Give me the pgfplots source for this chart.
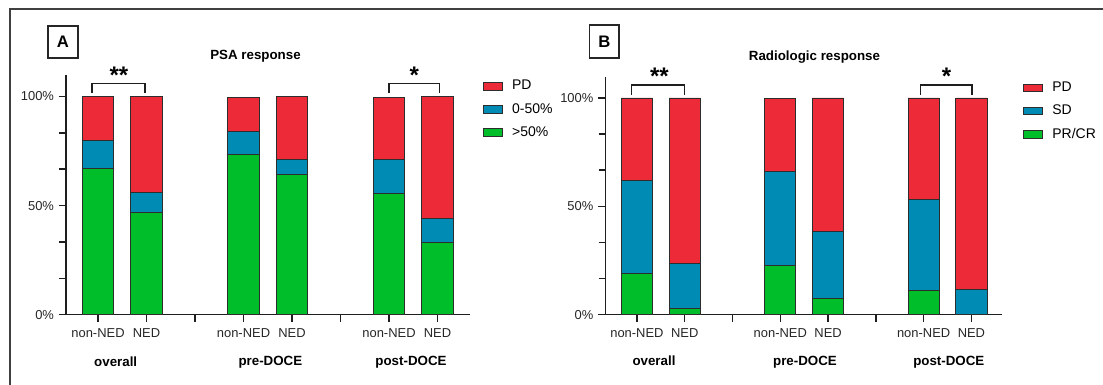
\documentclass[border=0pt]{standalone}
\usepackage{fontspec}
\setmainfont{Liberation Sans}
\usepackage{pgfplots}
\pgfplotsset{compat=1.18}
\definecolor{cPD}{RGB}{237,42,56}
\definecolor{cSD}{RGB}{0,139,180}
\definecolor{cPR}{RGB}{0,190,41}
\definecolor{edge}{RGB}{45,45,45}
\definecolor{axc}{RGB}{30,30,30}
\pgfplotsset{
  myaxis/.style={
    scale only axis,
    anchor=south west,
    ybar stacked,
    bar width=23.4pt,
    ymin=0, ymax=109.8,
    xmin=-0.66,
    axis lines=left,
    axis line style={-, line width=1.1pt, draw=axc},
    xtick={0,...,7},
    xticklabels={non-NED,NED,,non-NED,NED,,non-NED,NED},
    ytick={0,50,100},
    yticklabels={0\%,50\%,100\%},
    minor ytick={16.667,33.333,66.667,83.333},
    tick align=outside,
    major tick length=5.5pt, minor tick length=5pt,
    every tick/.style={line width=1.1pt, axc},
    every minor tick/.style={line width=1.1pt, axc},
    tick label style={font=\fontsize{9.7}{11}\selectfont, text=black!85},
    xticklabel style={yshift=-1pt},
    yticklabel style={xshift=0pt},
    /pgf/number format/assume math mode=true,
    clip=false,
    reverse legend,
    legend cell align=left,
    legend style={draw=none, fill=none, inner sep=0pt, font=\fontsize{10.5}{12}\selectfont,
      row sep=4.6pt, /tikz/every odd column/.append style={column sep=5pt}},
  },
  mybar/.style={draw=edge, line width=0.7pt,
    legend image code/.code={\draw[##1, line width=0.7pt] (0pt,-2.9pt) rectangle (14pt,2.9pt);}},
}
\begin{document}
\begin{tikzpicture}
\path[use as bounding box] (0,0) rectangle (827.25pt,288.75pt);
\begin{scope}
\clip (0,0) rectangle (827.25pt,288.75pt);
\draw[line width=1.4pt, draw=black!75] (7.5pt,-20pt) -- (7.5pt,282pt) -- (840pt,282pt);
\end{scope}

% ---------------- Panel A ----------------
\begin{axis}[myaxis, at={(49.5pt,52.7pt)}, width=303pt, height=179.8pt, xmax=7.67,
  legend style={at={(1.032,0.99)}, anchor=north west}]
\addplot[mybar, fill=cPR] coordinates {(0,67.2) (1,46.7) (3,73.4) (4,64.3) (6,55.6) (7,33.1)};
\addplot[mybar, fill=cSD] coordinates {(0,12.5) (1,9.3) (3,10.6) (4,6.8) (6,15.4) (7,11.0)};
\addplot[mybar, fill=cPD] coordinates {(0,20.3) (1,44.0) (3,15.7) (4,28.9) (6,28.4) (7,55.9)};
\legend{>50\%,0-50\%,PD}
\draw[line width=1.1pt, axc] (axis cs:-0.12,101.5) -- (axis cs:-0.12,106) -- (axis cs:0.97,106) -- (axis cs:0.97,101.5);
\draw[line width=1.1pt, axc] (axis cs:6.0,101.5) -- (axis cs:6.0,106) -- (axis cs:7.04,106) -- (axis cs:7.04,101.5);
\node[font=\bfseries\fontsize{18}{18}\selectfont, inner sep=0pt] at (axis cs:0.43,109.6) {**};
\node[font=\bfseries\fontsize{18}{18}\selectfont, inner sep=0pt] at (axis cs:6.52,109.6) {*};
\end{axis}

% ---------------- Panel B ----------------
\begin{axis}[myaxis, at={(454.05pt,52.7pt)}, width=297.8pt, height=178.5pt, xmax=7.65,
  legend style={at={(1.052,0.99)}, anchor=north west}]
\addplot[mybar, fill=cPR] coordinates {(0,19.1) (1,3.1) (3,22.9) (4,7.4) (6,11.4) (7,0)};
\addplot[mybar, fill=cSD] coordinates {(0,42.7) (1,20.7) (3,43.3) (4,31.1) (6,41.8) (7,11.5)};
\addplot[mybar, fill=cPD] coordinates {(0,38.2) (1,76.2) (3,33.5) (4,61.5) (6,46.8) (7,88.5)};
\legend{PR/CR,SD,PD}
\draw[line width=1.1pt, axc] (axis cs:-0.11,101.5) -- (axis cs:-0.11,106) -- (axis cs:1.0,106) -- (axis cs:1.0,101.5);
\draw[line width=1.1pt, axc] (axis cs:5.93,101.5) -- (axis cs:5.93,106) -- (axis cs:7.01,106) -- (axis cs:7.01,101.5);
\node[font=\bfseries\fontsize{18}{18}\selectfont, inner sep=0pt] at (axis cs:0.47,110.1) {**};
\node[font=\bfseries\fontsize{18}{18}\selectfont, inner sep=0pt] at (axis cs:6.48,110.1) {*};
\end{axis}

% ---------------- labels in pixel coordinates ----------------
\begin{scope}[x=0.75pt, y=-0.75pt, yshift=288.75pt]
\draw[line width=0.9pt, black!85] (48,26) rectangle (78,58);
\node[font=\bfseries\fontsize{12.5}{13}\selectfont] at (63,42) {A};
\draw[line width=0.9pt, black!85] (589.5,25) rectangle (619,58);
\node[font=\bfseries\fontsize{12.5}{13}\selectfont] at (604.3,41.5) {B};
\node[font=\bfseries\fontsize{10}{12}\selectfont] at (255.5,56) {PSA response};
\node[font=\bfseries\fontsize{10}{12}\selectfont] at (814.5,57) {Radiologic response};
\node[font=\bfseries\fontsize{10}{12}\selectfont] at (115.7,362) {overall};
\node[font=\bfseries\fontsize{10}{12}\selectfont] at (270.4,362) {pre-DOCE};
\node[font=\bfseries\fontsize{10}{12}\selectfont] at (411,362) {post-DOCE};
\node[font=\bfseries\fontsize{10}{12}\selectfont] at (654,360.5) {overall};
\node[font=\bfseries\fontsize{10}{12}\selectfont] at (805,362.5) {pre-DOCE};
\node[font=\bfseries\fontsize{10}{12}\selectfont] at (948.8,362.5) {post-DOCE};
\end{scope}
\end{tikzpicture}
\end{document}
